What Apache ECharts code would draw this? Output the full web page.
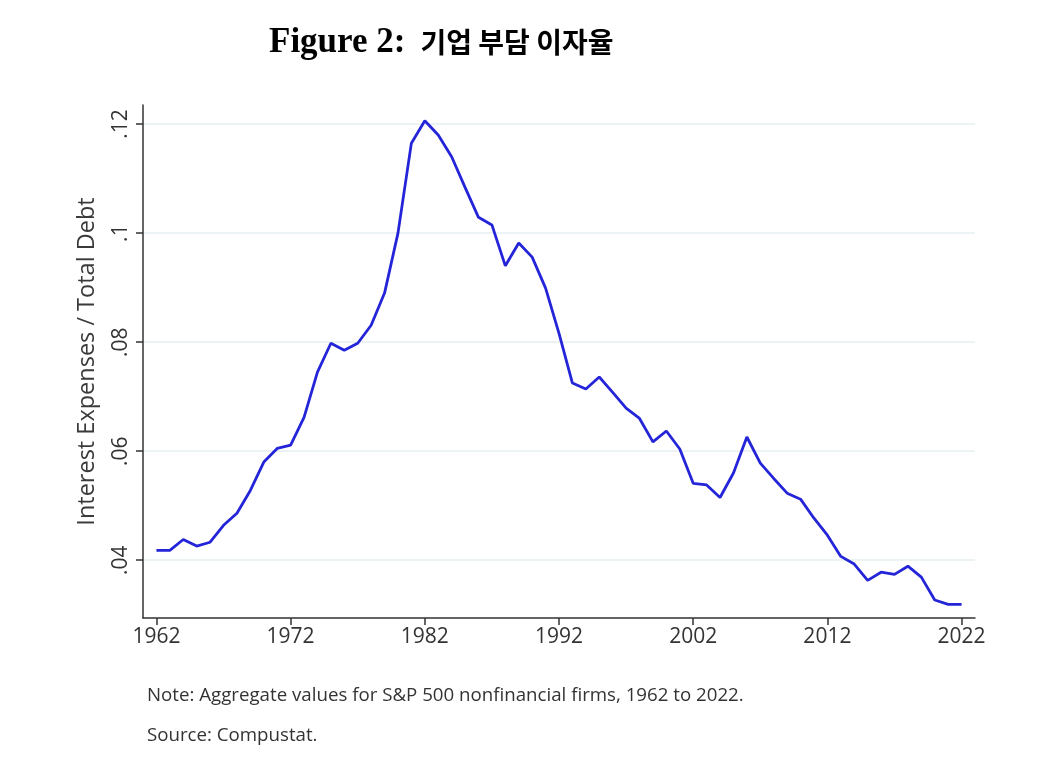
<!DOCTYPE html>
<html><head><meta charset="utf-8">
<script src="https://cdn.jsdelivr.net/npm/echarts@6/dist/echarts.min.js"></script>
<style>html,body{margin:0;padding:0;background:#fff}#c{width:1064px;height:776px}</style>
</head><body><div id="c"></div>
<script>
const years = [];
for (let y = 1962; y <= 2022; y++) years.push(y);
const ratio = [
0.0418,0.0418,0.0438,0.0426,0.0433,0.0464,0.0486,0.0528,0.0580,0.0605,
0.0611,0.0662,0.0745,0.0798,0.0785,0.0798,0.0831,0.0890,0.1000,0.1165,
0.1206,0.1180,0.1140,0.1084,0.1029,0.1015,0.0940,0.0982,0.0956,0.0899,
0.0816,0.0725,0.0714,0.0736,0.0708,0.0679,0.0660,0.0617,0.0637,0.0604,
0.0541,0.0538,0.0515,0.0560,0.0626,0.0578,0.0550,0.0523,0.0512,0.0477,
0.0446,0.0407,0.0393,0.0363,0.0378,0.0374,0.0389,0.0369,0.0327,0.0319,
0.0319];
const xTicks = [1962,1972,1982,1992,2002,2012,2022];
const yTicks = [0.04,0.06,0.08,0.10,0.12];
const yTickLabels = ['.04','.06','.08','.1','.12'];

const chart = echarts.init(document.getElementById('c'));
chart.setOption({
  animation:false,
  backgroundColor:'#fff',
  title:{
    left:264, top:20,
    text:'{a|Figure 2:}   {b|기업 부담 이자율}',
    textStyle:{rich:{
      a:{fontFamily:'Liberation Serif',fontWeight:'bold',fontSize:35,color:'#000'},
      b:{fontFamily:'Noto Sans CJK KR',fontWeight:'bold',fontSize:28,color:'#000'}
    }}
  },
  graphic:[
    {type:'text',left:147,top:686,style:{text:'Note: Aggregate values for S&P 500 nonfinancial firms, 1962 to 2022.',fontFamily:'Open Sans',fontSize:18.7,fill:'#333'}},
    {type:'text',left:147,top:726,style:{text:'Source: Compustat.',fontFamily:'Open Sans',fontSize:18.7,fill:'#333'}}
  ],
  grid:{left:143,right:1064-975,top:105,bottom:776-618,containLabel:false},
  xAxis:{
    type:'value',min:1961,max:2023,
    axisLine:{lineStyle:{color:'#333',width:1.5}},
    axisTick:{customValues:xTicks,length:7,lineStyle:{color:'#333',width:1.5}},
    axisLabel:{customValues:xTicks,fontFamily:'Open Sans',fontSize:21,color:'#333',margin:9,
      formatter:function(v){return String(Math.round(v));}},
    splitLine:{show:false}
  },
  yAxis:{
    type:'value',min:0.0294,max:0.1235,
    name:'Interest Expenses / Total Debt',nameLocation:'middle',nameGap:44,
    nameTextStyle:{fontFamily:'Open Sans',fontSize:23.5,color:'#3a3a3a'},
    axisLine:{show:true,lineStyle:{color:'#333',width:1.5}},
    axisTick:{show:true,customValues:yTicks,length:7,lineStyle:{color:'#333',width:1.5}},
    axisLabel:{customValues:yTicks,rotate:90,fontFamily:'Open Sans',fontSize:21,color:'#333',margin:11,
      formatter:function(v){const i=yTicks.findIndex(t=>Math.abs(t-v)<1e-6);return i>=0?yTickLabels[i]:'';}},
    splitLine:{show:true,lineStyle:{color:'#e6eff1',width:1.5}}
  },
  series:[{
    type:'line',data:years.map((y,i)=>[y,ratio[i]]),
    showSymbol:false,lineStyle:{color:'#2424d8',width:2.8},
    itemStyle:{color:'#2424d8'}
  }]
});
</script></body></html>
